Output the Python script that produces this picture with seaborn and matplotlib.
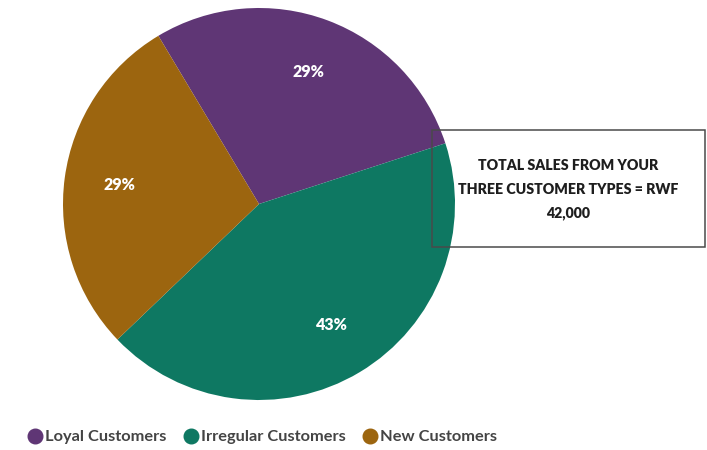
import matplotlib
matplotlib.use("Agg")
import matplotlib.pyplot as plt
from matplotlib.lines import Line2D
from matplotlib.patches import Rectangle
import seaborn as sns

# Sales by customer type (RWF)
categories = ["Loyal Customers", "Irregular Customers", "New Customers"]
sales = [12000, 18000, 12000]
colors = ["#5f3675", "#0e7862", "#9c650f"]
total_label = "TOTAL SALES FROM YOUR\nTHREE CUSTOMER TYPES = RWF\n42,000"

sns.set_theme(style="white")
plt.rcParams["font.family"] = ["Lato", "DejaVu Sans"]
palette = sns.color_palette(colors)

W, H = 707, 450
fig = plt.figure(figsize=(W / 100, H / 100), dpi=100)
fig.patch.set_facecolor("white")

# pie centre (259, 204) px from top-left, radius 196 px
cx, cy, r = 259, 204, 196
ax = fig.add_axes([(cx - r) / W, (H - cy - r) / H, 2 * r / W, 2 * r / H])
wedges, _, autotexts = ax.pie(
    sales,
    colors=palette,
    startangle=120.9,
    counterclock=False,
    autopct="%1.0f%%",
    pctdistance=0.72,
    wedgeprops=dict(linewidth=0),
    textprops=dict(color="white", fontsize=11.5, fontweight="heavy"),
)
ax.set_xlim(-1, 1)
ax.set_ylim(-1, 1)
ax.set_aspect("equal")
ax.axis("off")

# boxed total annotation, drawn over the pie edge
bx0, by0, bx1, by1 = 432, 130, 705, 247
box = Rectangle((bx0 / W, 1 - by1 / H), (bx1 - bx0) / W, (by1 - by0) / H,
                transform=fig.transFigure, fill=False, edgecolor="#4a4a4a",
                linewidth=1.1, clip_on=False, zorder=5)
ax.add_artist(box)
fig.text((bx0 + bx1) / 2 / W, 1 - 189.5 / H, total_label, ha="center", va="center",
         fontsize=10.2, fontweight="heavy", color="#1e1e1e", linespacing=2.0)

handles = [Line2D([0], [0], marker="o", linestyle="none", markersize=10.5,
                  markerfacecolor=c, markeredgecolor=c) for c in palette]
fig.legend(handles, categories, loc="center left", bbox_to_anchor=(12 / W, 1 - 437 / H),
           ncol=3, frameon=False, handletextpad=0.1, columnspacing=1.0,
           handlelength=1.0, prop=dict(size=11.8, weight="bold"), labelcolor="#444444")

fig.savefig("out.png", dpi=100, facecolor="white")
